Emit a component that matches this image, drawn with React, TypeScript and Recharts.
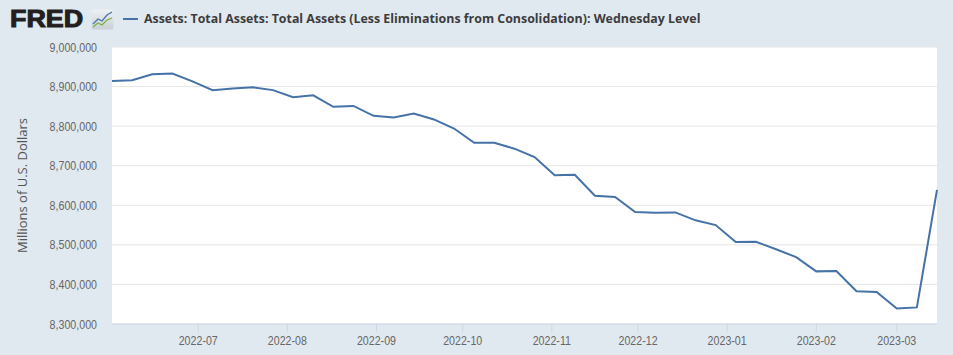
import { LineChart, Line, XAxis, YAxis, CartesianGrid } from 'recharts'

const dates = [
  '2022-06-01', '2022-06-08', '2022-06-15', '2022-06-22', '2022-06-29',
  '2022-07-06', '2022-07-13', '2022-07-20', '2022-07-27',
  '2022-08-03', '2022-08-10', '2022-08-17', '2022-08-24', '2022-08-31',
  '2022-09-07', '2022-09-14', '2022-09-21', '2022-09-28',
  '2022-10-05', '2022-10-12', '2022-10-19', '2022-10-26',
  '2022-11-02', '2022-11-09', '2022-11-16', '2022-11-23', '2022-11-30',
  '2022-12-07', '2022-12-14', '2022-12-21', '2022-12-28',
  '2023-01-04', '2023-01-11', '2023-01-18', '2023-01-25',
  '2023-02-01', '2023-02-08', '2023-02-15', '2023-02-22',
  '2023-03-01', '2023-03-08', '2023-03-15',
]

// millions of US dollars
const totalAssets = [
  8914000, 8916000, 8931000, 8933000, 8913000,
  8891000, 8895000, 8898000, 8891000,
  8873000, 8878000, 8849000, 8851000, 8826000,
  8822000, 8832000, 8817000, 8794000,
  8758000, 8758000, 8743000, 8722000,
  8676000, 8677000, 8624000, 8621000, 8583000,
  8581000, 8582000, 8562000, 8550000,
  8507000, 8508000, 8489000, 8469000,
  8433000, 8434000, 8383000, 8381000,
  8339000, 8342000, 8639000,
]

const monthTicks = [
  '2022-07-01', '2022-08-01', '2022-09-01', '2022-10-01', '2022-11-01',
  '2022-12-01', '2023-01-01', '2023-02-01', '2023-03-01',
]

const yTicks = [8300000, 8400000, 8500000, 8600000, 8700000, 8800000, 8900000, 9000000]

const toTime = (d: string) => Date.parse(d + 'T00:00:00Z')

const data = dates.map((d, i) => ({ t: toTime(d), value: totalAssets[i] }))

const fmtMonth = (t: number) => {
  const d = new Date(t)
  return `${d.getUTCFullYear()}-${String(d.getUTCMonth() + 1).padStart(2, '0')}`
}

const tickFont = "'Liberation Sans', Arial, sans-serif"

// no narrow font installed, so squeeze the tick labels a bit
function XTick({ x, y, payload }: any) {
  return (
    <g transform={`translate(${x},${y}) scale(0.82,1)`}>
      <text textAnchor="middle" dy="0.71em" fill="#666666" fontSize={13} fontFamily={tickFont}>
        {fmtMonth(payload.value)}
      </text>
    </g>
  )
}

function YTick({ x, y, payload }: any) {
  return (
    <g transform={`translate(${x},${y}) scale(0.82,1)`}>
      <text textAnchor="end" dy="0.355em" fill="#666666" fontSize={13} fontFamily={tickFont}>
        {Number(payload.value).toLocaleString('en-US')}
      </text>
    </g>
  )
}

export default function App() {
  return (
    <div style={{ position: 'relative', width: 953, height: 355, background: '#e1e9f0', overflow: 'hidden' }}>
      <style>{`body{margin:0}`}</style>

      {/* header */}
      <div
        style={{
          position: 'absolute', left: 10, top: 5, height: 28, lineHeight: '28px',
          fontFamily: "'Liberation Sans', Arial, sans-serif", fontWeight: 700, fontSize: 24,
          color: '#231f20', WebkitTextStroke: '1px #231f20', transform: 'scaleX(1.12)', transformOrigin: 'left center',
        }}
      >
        FRED
      </div>
      <svg width={23} height={21} style={{ position: 'absolute', left: 91, top: 9 }}>
        <defs>
          <linearGradient id="ic" x1="0" y1="0" x2="0" y2="1">
            <stop offset="0" stopColor="#eef1f4" />
            <stop offset="1" stopColor="#c9d0d6" />
          </linearGradient>
        </defs>
        <rect x={0.5} y={0.5} width={22} height={20} rx={2} fill="url(#ic)" />
        <polyline points="2,15 7,10 11,12 16,6 21,3" fill="none" stroke="#4572a7" strokeWidth={1.2} />
        <polyline points="2,18 7,14 11,16 16,11 21,9" fill="none" stroke="#79b03c" strokeWidth={1.2} />
      </svg>
      <span style={{ position: 'absolute', left: 123, top: 18, width: 15, height: 2, background: '#4572a7' }} />
      <div
        style={{
          position: 'absolute', left: 144, top: 9, lineHeight: '20px',
          fontFamily: "'Open Sans', sans-serif", fontWeight: 700, fontSize: 12.4, color: '#3c3c3c', whiteSpace: 'nowrap',
        }}
      >
        Assets: Total Assets: Total Assets (Less Eliminations from Consolidation): Wednesday Level
      </div>

      <div style={{ position: 'absolute', left: 0, top: 0 }}>
        <LineChart width={953} height={355} data={data} margin={{ top: 47, right: 16, bottom: 0, left: 0 }}>
          <CartesianGrid horizontal vertical={false} stroke="#e6e6e6" fill="#ffffff" />
          <XAxis
            dataKey="t"
            type="number"
            scale="time"
            domain={[toTime('2022-06-01'), toTime('2023-03-15')]}
            ticks={monthTicks.map(toTime)}
            interval={0}
            height={31}
            stroke="#ccd6eb"
            tickSize={8}
            tickMargin={4}
            tick={<XTick />}
          />
          <YAxis
            dataKey="value"
            type="number"
            domain={[8300000, 9000000]}
            ticks={yTicks}
            interval={0}
            width={112}
            axisLine={false}
            tickLine={false}
            tickSize={0}
            tickMargin={15}
            tick={<YTick />}
            label={({ viewBox }: any) => {
              const cy = viewBox.y + viewBox.height / 2
              return (
                <text
                  x={27}
                  y={cy}
                  transform={`rotate(-90 27 ${cy})`}
                  textAnchor="middle"
                  fill="#555555"
                  fontSize={13}
                  fontFamily="'Open Sans', sans-serif"
                >
                  Millions of U.S. Dollars
                </text>
              )
            }}
          />
          <Line
            type="linear"
            dataKey="value"
            stroke="#4572a7"
            strokeWidth={2}
            dot={false}
            isAnimationActive={false}
          />
        </LineChart>
      </div>
    </div>
  )
}
